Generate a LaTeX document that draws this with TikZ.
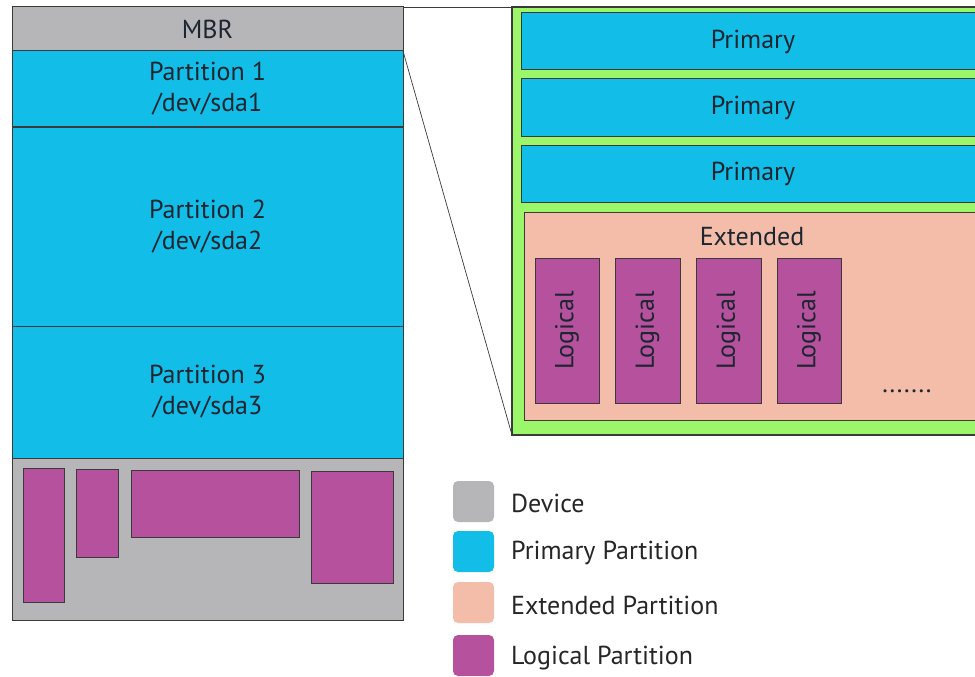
\documentclass[tikz,border=0pt]{standalone}
\usepackage{fontspec}
\setmainfont{PT Sans}
\definecolor{devgray}{HTML}{B6B6B9}
\definecolor{primblue}{HTML}{12BDE8}
\definecolor{extsalmon}{HTML}{F4BDA9}
\definecolor{logpurple}{HTML}{B6529D}
\definecolor{zoomgreen}{HTML}{9CF66A}
\definecolor{edge}{HTML}{3A3A3A}
\definecolor{txt}{HTML}{1C2530}
\tikzset{
  part/.style={draw=edge, line width=1pt, inner sep=0pt, outer sep=0pt, anchor=center,
    font=\fontsize{26}{31}\selectfont, text=txt, align=center},
  dev/.style={part, fill=devgray},
  prim/.style={part, fill=primblue},
  ext/.style={part, fill=extsalmon},
  logic/.style={part, fill=logpurple},
  zoombox/.style={part, fill=zoomgreen, line width=1.2pt},
  legsq/.style={fill=#1, rounded corners=5pt, minimum width=41pt, minimum height=41pt, inner sep=0pt},
  leglab/.style={anchor=west, font=\fontsize{26}{28}\selectfont, text=black!85, inner sep=0pt},
  link/.style={draw=edge, line width=0.7pt}
}
\begin{document}
\begin{tikzpicture}[x=1pt,y=-1pt]
\useasboundingbox (0,0) rectangle (975,677);
\clip (0,0) rectangle (975,677);
\fill[white] (0,0) rectangle (975,677);
% left device
\node[dev, minimum width=391pt, minimum height=44pt] (mbr) at (207.5,29) {MBR};
\node[prim, minimum width=391pt, minimum height=76pt] (p1) at (207.5,89) {Partition 1\\/dev/sda1};
\node[prim, minimum width=391pt, minimum height=199pt] (p2) at (207.5,226.5) {Partition 2\\/dev/sda2};
\node[prim, minimum width=391pt, minimum height=132pt] (p3) at (207.5,392) {Partition 3\\/dev/sda3};
\node[dev, minimum width=391pt, minimum height=162pt] (free) at (207.5,539) {};
\draw[edge, line width=2pt] (p1.south west) -- (p1.south east);
% logical blocks inside device
\node[logic, minimum width=41pt, minimum height=134pt] (d1) at (43.5,535) {};
\node[logic, minimum width=42pt, minimum height=88pt] (d2) at (97,513) {};
\node[logic, minimum width=168pt, minimum height=67pt] (d3) at (215,503.5) {};
\node[logic, minimum width=82pt, minimum height=112pt] (d4) at (352,527) {};
% zoomed view
\node[zoombox, minimum width=473pt, minimum height=428pt] (zoom) at (748.5,221) {};
\node[prim, minimum width=464pt, minimum height=57pt] (z1) at (753,41.5) {Primary};
\node[prim, minimum width=464pt, minimum height=57pt] (z2) at (753,107.5) {Primary};
\node[prim, minimum width=464pt, minimum height=57pt] (z3) at (753,173.5) {Primary};
\node[ext, minimum width=461pt, minimum height=208pt] (ext) at (754.5,316) {};
\node[text=txt, font=\fontsize{26}{28}\selectfont, inner sep=0pt] (extlab) at (752,237) {Extended};
\node[logic, minimum width=145pt, minimum height=64pt, rotate=90] (l1) at (567,330.5) {Logical};
\node[logic, minimum width=145pt, minimum height=65pt, rotate=90] (l2) at (647.5,330.5) {Logical};
\node[logic, minimum width=145pt, minimum height=65pt, rotate=90] (l3) at (728.5,330.5) {Logical};
\node[logic, minimum width=145pt, minimum height=64pt, rotate=90] (l4) at (809,330.5) {Logical};
\node[text=txt, font=\fontsize{26}{28}\selectfont, inner sep=0pt, anchor=base] (dots) at (907,392) {.......};
% links
\draw[link] (mbr.north east) -- (zoom.north west);
\draw[link] (p1.north east) -- (zoom.south west);
% legend
\node[legsq=devgray] (k1) at (473.5,501.5) {};
\node[legsq=primblue] (k2) at (473.5,551.5) {};
\node[legsq=extsalmon] (k3) at (473.5,602.5) {};
\node[legsq=logpurple] (k4) at (473.5,655.5) {};
\node[leglab] (t1) at (511,503) {Device};
\node[leglab] (t2) at (511,553) {Primary Partition};
\node[leglab] (t3) at (511,605) {Extended Partition};
\node[leglab] (t4) at (511,658) {Logical Partition};
\end{tikzpicture}
\end{document}
